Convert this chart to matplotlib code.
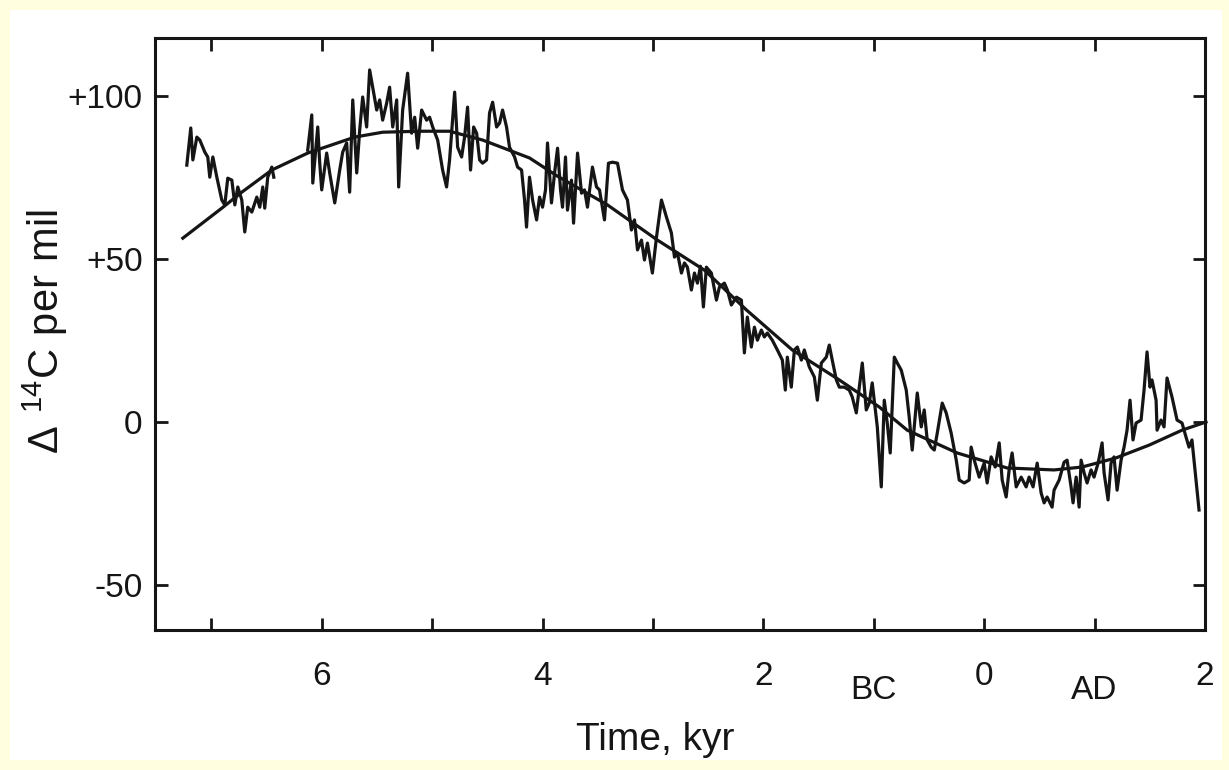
import numpy as np
import matplotlib
matplotlib.use("Agg")
import matplotlib.pyplot as plt
from matplotlib.patches import Rectangle
import matplotlib.transforms as mtransforms

plt.rcParams["font.family"] = ["Liberation Sans", "DejaVu Sans"]
plt.rcParams["mathtext.fontset"] = "custom"
plt.rcParams["mathtext.rm"] = "Liberation Sans"

PAGE, INK = "#ffffe0", "#151515"

# ---------------------------------------------------------------
# tree-ring radiocarbon record (kyr, negative = BC) and smooth fit
# NaN marks the short gap in the record near 6.5 kyr BC
# ---------------------------------------------------------------
t_rec = [
    -7.222, -7.186, -7.167, -7.131, -7.104, -7.059, -7.032, -7.014, -6.986, -6.950,
    -6.905, -6.878, -6.851, -6.814, -6.787, -6.760, -6.724, -6.697, -6.670, -6.633,
    -6.588, -6.561, -6.534, -6.516, -6.489, -6.452, -6.434, -6.300,
    -6.127, -6.090, -6.081, -6.036, -6.018, -6.000, -5.955, -5.928, -5.882, -5.837,
    -5.810, -5.774, -5.747, -5.719, -5.683, -5.656, -5.629, -5.593, -5.566, -5.538,
    -5.502, -5.475, -5.448, -5.412, -5.385, -5.357, -5.321, -5.303, -5.267, -5.222,
    -5.186, -5.158, -5.131, -5.095, -5.050, -5.023, -4.995, -4.950, -4.905, -4.869,
    -4.842, -4.796, -4.769, -4.733, -4.706, -4.679, -4.652, -4.624, -4.597, -4.570,
    -4.543, -4.507, -4.480, -4.452, -4.416, -4.389, -4.362, -4.326, -4.299, -4.253,
    -4.226, -4.190, -4.163, -4.145, -4.118, -4.090, -4.054, -4.027, -4.000, -3.973,
    -3.955, -3.919, -3.891, -3.864, -3.837, -3.819, -3.792, -3.774, -3.738, -3.719,
    -3.683, -3.647, -3.620, -3.593, -3.548, -3.511, -3.484, -3.439, -3.403, -3.367,
    -3.321, -3.276, -3.231, -3.195, -3.167, -3.140, -3.104, -3.077, -3.050, -3.005,
    -2.968, -2.923, -2.878, -2.833, -2.805, -2.778, -2.742, -2.715, -2.688, -2.652,
    -2.624, -2.597, -2.570, -2.543, -2.516, -2.471, -2.425, -2.398, -2.353, -2.326,
    -2.290, -2.244, -2.199, -2.172, -2.145, -2.109, -2.081, -2.054, -2.018, -1.991,
    -1.964, -1.919, -1.873, -1.828, -1.801, -1.783, -1.747, -1.719, -1.692, -1.656,
    -1.629, -1.584, -1.538, -1.511, -1.475, -1.430, -1.403, -1.376, -1.339, -1.312,
    -1.267, -1.222, -1.195, -1.158, -1.131, -1.104, -1.068, -1.041, -1.014, -0.968,
    -0.932, -0.905, -0.878, -0.851, -0.814, -0.787, -0.751, -0.706, -0.679, -0.652,
    -0.606, -0.570, -0.543, -0.516, -0.480, -0.452, -0.425, -0.380, -0.344, -0.299,
    -0.253, -0.226, -0.181, -0.136, -0.118, -0.090, -0.045, 0.000, 0.027, 0.063,
    0.100, 0.136, 0.163, 0.199, 0.226, 0.253, 0.290, 0.335, 0.380, 0.407,
    0.443, 0.480, 0.516, 0.543, 0.570, 0.615, 0.633, 0.679, 0.724, 0.751,
    0.787, 0.805, 0.833, 0.860, 0.878, 0.905, 0.932, 0.968, 0.995, 1.032,
    1.068, 1.086, 1.122, 1.149, 1.176, 1.204, 1.240, 1.267, 1.294, 1.321,
    1.348, 1.376, 1.421, 1.448, 1.475, 1.502, 1.520, 1.557, 1.566, 1.602,
    1.629, 1.656, 1.701, 1.747, 1.792, 1.828, 1.855, 1.882, 1.946,
]
d14c_rec = [
    78.8, 90.2, 80.4, 87.4, 86.5, 82.8, 81.3, 75.1, 81.3, 75.1,
    68.1, 66.6, 74.8, 74.2, 66.6, 72.1, 68.1, 58.3, 65.9, 64.4,
    69.0, 65.9, 72.1, 65.6, 75.1, 78.2, 75.1, np.nan,
    83.4, 94.2, 73.3, 90.5, 79.4, 71.2, 82.5, 76.4, 67.2, 77.3,
    82.8, 85.6, 70.5, 98.8, 76.4, 89.6, 99.7, 90.5, 108.0, 102.7,
    95.7, 98.8, 92.6, 97.8, 102.7, 90.5, 98.8, 72.1, 95.7, 107.0,
    88.6, 93.5, 84.0, 95.7, 92.6, 93.5, 90.5, 86.5, 77.3, 72.1,
    80.4, 101.2, 84.3, 81.3, 87.4, 96.6, 77.3, 90.5, 88.6, 80.4,
    79.4, 80.4, 94.8, 98.1, 90.5, 91.7, 95.7, 90.5, 84.3, 81.3,
    78.2, 77.3, 68.1, 59.8, 75.1, 68.1, 62.0, 69.0, 65.9, 71.2,
    85.6, 67.2, 76.4, 84.0, 71.2, 65.9, 81.3, 65.0, 74.2, 61.0,
    82.5, 70.2, 71.2, 65.9, 78.2, 72.1, 71.2, 62.0, 79.4, 79.7,
    79.4, 71.2, 68.1, 58.9, 62.0, 52.8, 55.8, 49.7, 54.9, 45.7,
    56.7, 68.1, 62.9, 58.0, 50.6, 51.8, 45.7, 48.8, 47.5, 40.5,
    45.7, 42.6, 47.8, 35.3, 47.5, 45.7, 37.4, 41.4, 42.6, 40.5,
    35.9, 38.3, 37.4, 21.2, 32.2, 23.0, 29.1, 25.1, 28.2, 26.1,
    27.3, 25.1, 22.1, 19.0, 9.8, 19.9, 10.7, 22.1, 23.0, 19.0,
    22.1, 16.9, 13.8, 6.7, 18.1, 19.9, 23.6, 19.0, 12.9, 10.7,
    10.7, 9.8, 7.7, 2.8, 10.7, 18.1, 3.7, 5.8, 12.0, -1.5,
    -19.9, 6.7, -0.3, -9.5, 19.9, 18.1, 15.9, 9.8, 1.5, -8.6,
    8.9, -1.5, 3.7, -5.5, -7.7, -8.6, -3.4, 5.8, 2.8, -3.4,
    -11.7, -17.8, -18.7, -17.8, -7.7, -11.7, -16.9, -12.6, -18.7, -10.7,
    -13.8, -6.4, -17.8, -23.0, -14.7, -9.5, -19.9, -16.9, -19.9, -16.9,
    -19.9, -12.6, -21.8, -24.8, -23.0, -26.1, -20.9, -17.8, -12.3, -11.7,
    -19.9, -24.8, -16.9, -26.1, -11.7, -15.6, -18.7, -14.7, -16.9, -12.6,
    -6.4, -15.6, -23.9, -12.6, -10.7, -20.9, -11.7, -7.7, -2.5, 6.7,
    -5.5, -0.3, 0.6, 9.8, 21.5, 10.7, 12.9, 6.7, -2.5, 0.6,
    -1.5, 13.5, 7.7, 0.6, -0.3, -4.6, -7.7, -5.5, -27.0,
]

t_fit = [-7.258, -6.905, -6.724, -6.452, -6.127, -5.701, -5.448, -5.113, -4.842,
         -4.543, -4.118, -3.864, -3.412, -2.959, -2.534, -2.154, -1.738, -1.312,
         -0.950, -0.697, -0.244, 0.208, 0.633, 0.887, 1.195, 1.493, 1.792, 2.009]
d14c_fit = [56.4, 65.6, 70.5, 77.3, 82.5, 87.4, 88.9, 89.2, 89.2,
            86.5, 81.0, 75.4, 66.6, 55.8, 46.6, 34.4, 22.1, 12.9,
            4.6, -2.5, -9.5, -14.1, -14.7, -13.8, -11.0, -7.1, -2.5, 0.0]

x_ticks = [-7, -6, -5, -4, -3, -2, -1, 0, 1, 2]
x_labels = {-6: "6", -4: "4", -2: "2", 0: "0", 2: "2"}
era_labels = {-1: "BC", 1: "AD"}
y_ticks = [-50, 0, 50, 100]
y_labels = ["-50", "0", "+50", "+100"]

# ---------------------------------------------------------------
# figure: pale page with a white card behind the plot
# ---------------------------------------------------------------
fig = plt.figure(figsize=(12.29, 7.70), dpi=100, facecolor=PAGE)
fig.patches.append(Rectangle((10 / 1229, 10 / 770), 1212 / 1229, 750 / 770,
                             transform=fig.transFigure, facecolor="white",
                             edgecolor="none", zorder=-10))

ax = fig.add_axes([155 / 1229, 1 - 630 / 770, 1050 / 1229, 592 / 770])
ax.set_facecolor("white")

ax.plot(t_rec, d14c_rec, color=INK, lw=2.3, solid_joinstyle="round", zorder=3)
ax.plot(t_fit, d14c_fit, color=INK, lw=2.3, solid_joinstyle="round",
        clip_on=False, zorder=4)

ax.set_xlim(-7.51, 1.99)
ax.set_ylim(-63.8, 117.8)

ax.set_xticks(x_ticks)
ax.set_xticklabels([x_labels.get(t, "") for t in x_ticks])
ax.set_yticks(y_ticks)
ax.set_yticklabels(y_labels)
ax.tick_params(axis="both", direction="in", length=9, width=2, colors=INK,
               top=True, right=True, labelsize=24)
ax.tick_params(axis="x", pad=22)
ax.tick_params(axis="y", pad=9)

for s in ax.spines.values():
    s.set_linewidth(2.2)
    s.set_color(INK)

# BC / AD sit a little lower than the numbers
trans = mtransforms.blended_transform_factory(ax.transData, ax.transAxes)
for t, lab in era_labels.items():
    ax.text(t, -0.102, lab, transform=trans, ha="center", va="center",
            fontsize=24, color=INK)

fig.text(45 / 1229, 1 - 332 / 770, r"$\mathregular{\Delta\ ^{14}C\ per\ mil}$",
         rotation=90, ha="center", va="center", fontsize=30, color=INK)
fig.text(655 / 1229, 1 - 740 / 770, "Time, kyr", ha="center", va="center",
         fontsize=28, color=INK)

plt.savefig("out.png", dpi=100, facecolor=PAGE)
plt.close()
